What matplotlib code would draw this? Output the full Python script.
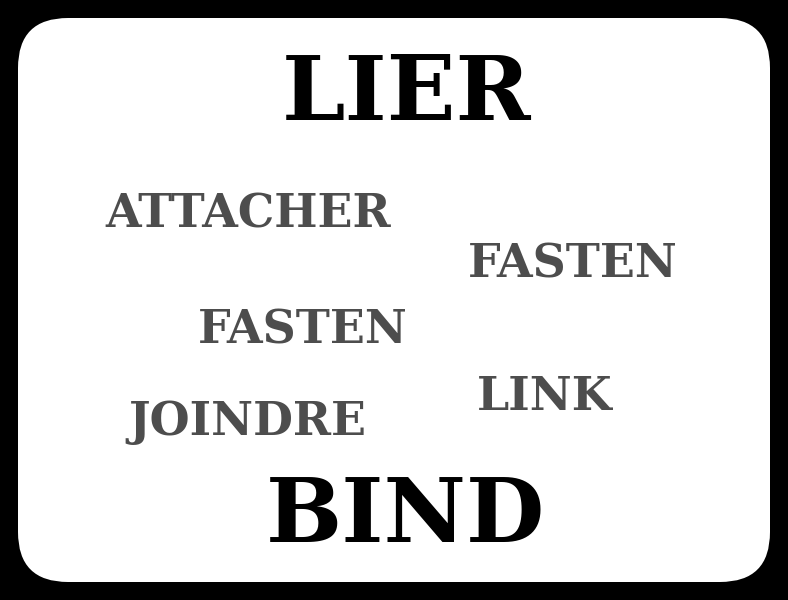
import matplotlib.pyplot as plt
from matplotlib.patches import FancyBboxPatch

# Title words (black) and the related words (gray)
main_words = ['LIER', 'BIND']
main_x = [407, 405]
main_y = [95, 518]

other_words = ['ATTACHER', 'FASTEN', 'FASTEN', 'LINK', 'JOINDRE']
other_x = [248, 573, 303, 545, 247]
other_y = [215, 265, 330, 397, 422]

fig = plt.figure(figsize=(7.88, 6), dpi=100, facecolor='black')
ax = fig.add_axes([0, 0, 1, 1])
ax.set_xlim(0, 788)
ax.set_ylim(600, 0)
ax.axis('off')

card = FancyBboxPatch((68, 68), 652, 464, boxstyle='round,pad=0,rounding_size=50',
                      facecolor='white', edgecolor='none')
card.set_boxstyle('round', pad=50, rounding_size=50)
ax.add_patch(card)

for w, x, y in zip(main_words, main_x, main_y):
    ax.text(x, y, w, ha='center', va='center', fontsize=65, fontweight='bold',
            family='DejaVu Serif', color='black')

for w, x, y in zip(other_words, other_x, other_y):
    ax.text(x, y, w, ha='center', va='center', fontsize=33, fontweight='bold',
            family='DejaVu Serif', color='#4d4d4d')

fig.savefig('out.png', dpi=100, facecolor='black')
